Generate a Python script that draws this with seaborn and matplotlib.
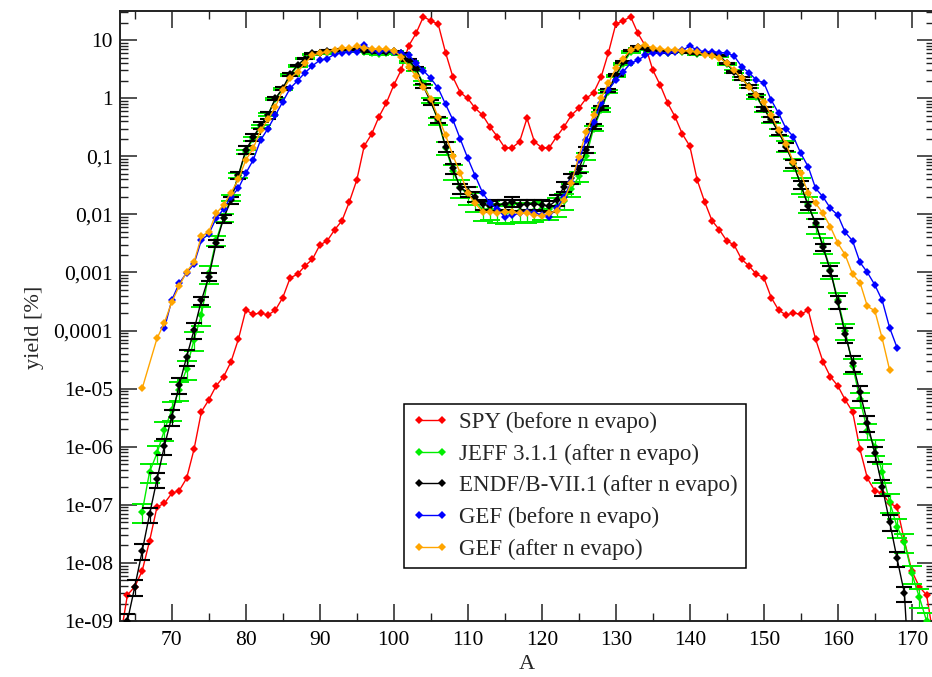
import numpy as np
import matplotlib
matplotlib.use("Agg")
import matplotlib.pyplot as plt
import seaborn as sns
from matplotlib.ticker import FixedLocator, FuncFormatter, LogLocator, MultipleLocator, NullFormatter

# ---------------- data: fission product mass yields [%] ----------------
A_spy = list(range(63, 174))
y_spy = [4.7e-10, 2.8e-9, 3.9e-9, 7.3e-9, 2.4e-8, 9.2e-8, 1.06e-7, 1.58e-7, 1.75e-7, 2.86e-7,
         9.0e-7, 4.0e-6, 6.4e-6, 1.12e-5, 1.6e-5, 2.9e-5, 7.1e-5, 2.25e-4, 1.9e-4, 2.0e-4,
         1.85e-4, 2.25e-4, 3.7e-4, 8.1e-4, 9.3e-4, 1.3e-3, 1.68e-3, 2.96e-3, 3.5e-3, 5.4e-3,
         7.8e-3, 1.65e-2, 3.9e-2, 0.15, 0.24, 0.48, 0.83, 1.68, 3.05, 7.9,
         13.0, 25.2, 21.5, 18.8, 6.05, 2.28, 1.24, 0.99, 0.67, 0.51,
         0.32, 0.217, 0.14, 0.14, 0.178, 0.45, 0.178, 0.14, 0.14, 0.217,
         0.32, 0.51, 0.67, 0.99, 1.24, 2.28, 6.05, 18.8, 21.5, 25.2,
         13.0, 7.9, 3.05, 1.68, 0.83, 0.48, 0.24, 0.15, 3.9e-2, 1.65e-2,
         7.8e-3, 5.4e-3, 3.5e-3, 2.96e-3, 1.68e-3, 1.3e-3, 9.3e-4, 8.1e-4, 3.7e-4, 2.25e-4,
         1.85e-4, 2.0e-4, 1.9e-4, 2.25e-4, 7.1e-5, 2.9e-5, 1.6e-5, 1.12e-5, 6.4e-6, 4.0e-6,
         9.0e-7, 2.86e-7, 1.75e-7, 1.58e-7, 1.06e-7, 9.2e-8, 2.4e-8, 7.3e-9, 3.9e-9, 2.8e-9,
         4.7e-10]

A_jeff = list(range(66, 173))
y_jeff = [7.6e-8, 3.7e-7, 7.7e-7, 1.94e-6, 4.3e-6, 9.5e-6, 2.2e-5, 6.9e-5, 1.85e-4, 9.7e-4,
          3.6e-3, 8.8e-3, 1.9e-2, 4.6e-2, 0.12, 0.2, 0.33, 0.52, 0.98, 1.42,
          2.5, 3.6, 4.8, 5.6, 5.9, 6.0, 6.2, 6.4, 6.4, 6.5,
          6.3, 6.0, 5.8, 5.9, 6.2, 5.7, 4.2, 3.1, 1.8, 0.9,
          0.4, 0.14, 0.055, 0.029, 0.022, 0.017, 0.012, 0.0125, 0.011, 0.0105,
          0.011, 0.0115, 0.011, 0.0115, 0.0125, 0.0125, 0.014, 0.017, 0.027, 0.045,
          0.1, 0.3, 0.62, 1.3, 2.4, 3.9, 6.2, 7.0, 7.2, 6.5,
          6.2, 6.1, 6.6, 6.3, 6.2, 5.8, 5.8, 5.9, 5.3, 3.8,
          2.9, 2.2, 1.6, 1.05, 0.65, 0.42, 0.26, 0.15, 0.073, 0.032,
          0.015, 6.5e-3, 3.0e-3, 1.1e-3, 3.4e-4, 1.0e-4, 2.5e-5, 6.5e-6, 1.9e-6, 1.0e-6,
          3.7e-7, 1.13e-7, 4.2e-8, 2.3e-8, 6.6e-9, 2.6e-9, 1.0e-9]
rel_jeff = ([0.35] * 10
            + [0.2, 0.15, 0.12, 0.1, 0.08, 0.08, 0.06, 0.05, 0.04, 0.04]
            + [0.03] * 10
            + [0.03] * 5 + [0.04, 0.05, 0.06, 0.08, 0.1]
            + [0.15, 0.25, 0.3] + [0.35] * 7
            + [0.35] * 7 + [0.3, 0.25, 0.2]
            + [0.15, 0.1, 0.08, 0.06, 0.05, 0.04, 0.03, 0.03, 0.03, 0.03]
            + [0.03] * 9 + [0.04]
            + [0.05, 0.06, 0.07, 0.08, 0.1, 0.12, 0.15, 0.2, 0.25, 0.3]
            + [0.3] * 10
            + [0.35] * 7)

A_endf = list(range(64, 171))
y_endf = [1.0e-9, 3.9e-9, 1.6e-8, 6.9e-8, 2.75e-7, 1.03e-6, 3.3e-6, 1.15e-5, 3.5e-5, 1.02e-4,
          3.3e-4, 8.4e-4, 3.2e-3, 8.5e-3, 1.76e-2, 4.7e-2, 0.128, 0.211, 0.344, 0.51,
          0.99, 1.48, 2.6, 3.7, 4.8, 5.9, 6.1, 6.5, 6.6, 6.9,
          6.8, 6.9, 6.6, 6.4, 6.2, 6.3, 6.4, 5.9, 4.5, 3.26,
          1.6, 0.85, 0.43, 0.146, 0.062, 0.028, 0.0245, 0.020, 0.015, 0.0139,
          0.0145, 0.015, 0.0165, 0.0145, 0.015, 0.015, 0.0145, 0.0139, 0.0176, 0.030,
          0.042, 0.060, 0.128, 0.33, 0.67, 1.38, 2.5, 4.2, 6.7, 7.7,
          7.2, 6.6, 6.3, 6.2, 6.6, 6.4, 6.2, 5.9, 5.8, 5.9,
          5.5, 3.97, 2.85, 2.19, 1.6, 1.13, 0.65, 0.43, 0.26, 0.146,
          0.075, 0.032, 0.0139, 7.2e-3, 2.7e-3, 1.07e-3, 3.1e-4, 8.6e-5, 2.8e-5, 8.6e-6,
          2.6e-6, 7.7e-7, 2.05e-7, 5.1e-8, 1.2e-8, 3.0e-9, 2.0e-11]
rel_endf = ([0.3] * 10
            + [0.15] * 10
            + [0.06, 0.06, 0.06] + [0.02] * 7
            + [0.02] * 7 + [0.03, 0.04, 0.06]
            + [0.08, 0.1, 0.12] + [0.2] * 7
            + [0.2] * 10
            + [0.2, 0.15, 0.12, 0.1, 0.08, 0.06, 0.04, 0.03, 0.02, 0.02]
            + [0.02] * 10
            + [0.02, 0.03, 0.04, 0.05, 0.06, 0.06, 0.08, 0.1, 0.12, 0.15]
            + [0.15] * 5 + [0.2, 0.25, 0.3, 0.3, 0.3]
            + [0.3] * 7)

A_gef_pre = list(range(69, 169))
y_gef_pre = [1.09e-4, 3.35e-4, 6.5e-4, 9.8e-4, 1.4e-3, 3.6e-3, 4.6e-3, 8.6e-3, 1.23e-2, 2.0e-2,
             2.8e-2, 5.1e-2, 8.6e-2, 0.19, 0.30, 0.51, 0.87, 1.48, 2.0, 2.74,
             3.6, 4.5, 4.8, 5.7, 6.05, 6.3, 6.3, 8.2, 6.7, 6.3,
             6.7, 6.3, 5.9, 5.5, 4.06, 2.97, 2.19, 1.48, 0.78, 0.42,
             0.195, 0.092, 0.046, 0.0235, 0.0155, 0.0122, 0.0091, 0.0097, 0.0104, 0.0111,
             0.0107, 0.0097, 0.0091, 0.0127, 0.020, 0.036, 0.086, 0.19, 0.39, 0.81,
             1.38, 2.05, 2.85, 4.0, 4.5, 5.5, 6.0, 5.9, 6.1, 6.3,
             6.7, 7.9, 6.7, 6.3, 6.3, 6.1, 6.0, 5.3, 3.5, 2.74,
             2.05, 1.84, 0.93, 0.55, 0.30, 0.217, 0.112, 0.066, 0.028, 0.020,
             0.0127, 9.7e-3, 4.9e-3, 3.5e-3, 1.49e-3, 1.0e-3, 6.1e-4, 3.3e-4, 1.12e-4, 5.1e-5]

A_gef_post = [66] + list(range(68, 168))
y_gef_post = [1.01e-5,
              7.3e-5, 1.36e-4, 3.1e-4, 5.8e-4, 1.03e-3, 1.49e-3, 4.2e-3, 5.0e-3, 1.04e-2, 1.45e-2,
              2.35e-2, 4.0e-2, 8.6e-2, 0.137, 0.28, 0.43, 0.71, 1.38, 2.19, 2.85,
              3.97, 5.5, 5.9, 6.3, 6.7, 7.2, 7.2, 7.9, 7.4, 7.1,
              6.9, 7.0, 6.6, 5.2, 3.5, 2.4, 1.57, 0.97, 0.47, 0.23,
              0.101, 0.051, 0.023, 0.0155, 0.0111, 0.0111, 0.0107, 0.0111, 0.0111, 0.0104,
              0.0104, 0.0097, 0.0094, 0.0105, 0.0115, 0.0176, 0.035, 0.098, 0.26, 0.51,
              0.99, 1.8, 3.26, 4.8, 6.7, 7.7, 8.2, 7.3, 7.0, 6.8,
              6.8, 6.6, 6.5, 6.2, 5.5, 5.4, 5.0, 3.97, 3.05, 2.2,
              1.57, 1.14, 0.87, 0.51, 0.28, 0.162, 0.080, 0.051, 0.023, 0.0155,
              0.0104, 6.1e-3, 3.2e-3, 2.0e-3, 9.3e-4, 6.7e-4, 2.6e-4, 2.2e-4, 7.3e-5, 2.1e-5]

labels = ["SPY (before n evapo)", "JEFF 3.1.1 (after n evapo)",
          "ENDF/B-VII.1 (after n evapo)", "GEF (before n evapo)", "GEF (after n evapo)"]

x_ticks = [70, 80, 90, 100, 110, 120, 130, 140, 150, 160, 170]
y_decades = [-9, -8, -7, -6, -5, -4, -3, -2, -1, 0, 1]
y_tick_text = ["1e-09", "1e-08", "1e-07", "1e-06", "1e-05",
               "0,0001", "0,001", "0,01", "0,1", "1", "10"]

# ---------------- style ----------------
sns.set_style("ticks")
plt.rcParams["font.family"] = ["Liberation Serif", "DejaVu Serif"]

W, H = 932, 677
fig = plt.figure(figsize=(W / 100, H / 100), dpi=100)
ax = fig.add_axes([120 / W, (H - 621) / H, 814 / W, 610 / H])

line_kw = dict(marker="D", markersize=4.5, markeredgewidth=0, linewidth=1.0,
               sort=False, errorbar=None)

sns.lineplot(x=A_spy, y=y_spy, color="#ff0000", label=labels[0], ax=ax, zorder=2, **line_kw)

y_j = np.array(y_jeff)
e_j = y_j * np.array(rel_jeff)
sns.lineplot(x=A_jeff, y=y_jeff, color="#00ee00", label=labels[1], ax=ax, zorder=3, **line_kw)
ax.errorbar(A_jeff, y_j, yerr=e_j, fmt="none", ecolor="#00ee00", elinewidth=0.9,
            capsize=7.5, capthick=1.4, zorder=3, label="_nolegend_")

y_e = np.array(y_endf)
e_e = y_e * np.array(rel_endf)
sns.lineplot(x=A_endf, y=y_endf, color="black", label=labels[2], ax=ax, zorder=4, **line_kw)
ax.errorbar(A_endf, y_e, yerr=e_e, fmt="none", ecolor="black", elinewidth=0.9,
            capsize=6.0, capthick=1.5, zorder=4, label="_nolegend_")

sns.lineplot(x=A_gef_pre, y=y_gef_pre, color="#0000ff", label=labels[3], ax=ax, zorder=5, **line_kw)
sns.lineplot(x=A_gef_post, y=y_gef_post, color="#ffa500", label=labels[4], ax=ax, zorder=6, **line_kw)

# ---------------- axes ----------------
ax.set_yscale("log")
ax.set_xlim(63, 173)
ax.set_ylim(1e-9, 10 ** 1.5)

ax.xaxis.set_major_locator(FixedLocator(x_ticks))
ax.xaxis.set_minor_locator(MultipleLocator(5))
ax.yaxis.set_major_locator(FixedLocator([10.0 ** d for d in y_decades]))
ax.yaxis.set_minor_locator(LogLocator(base=10, subs=np.arange(2, 10), numticks=40))
ax.yaxis.set_minor_formatter(NullFormatter())
tick_map = {d: t for d, t in zip(y_decades, y_tick_text)}
ax.yaxis.set_major_formatter(FuncFormatter(lambda v, p: tick_map.get(int(round(np.log10(v))), "")))

ax.tick_params(which="both", direction="in", top=True, right=True, colors="#222222",
               labelcolor="black", labelsize=15.5)
ax.tick_params(which="major", length=12, width=1.1)
ax.tick_params(which="minor", length=6, width=1.0)
ax.tick_params(axis="x", which="major", pad=7)
ax.tick_params(axis="y", which="major", pad=5)
for s in ax.spines.values():
    s.set_linewidth(1.4)
    s.set_color("#222222")

ax.set_xlabel("A", fontsize=16, labelpad=4)
fig.text(34 / W, 1 - 327 / H, "yield [%]", rotation=90, fontsize=16,
         ha="center", va="center")
ax.set_ylabel("")

leg = ax.legend(loc="lower left", bbox_to_anchor=(0.349, 0.087), borderaxespad=0,
                frameon=True, fancybox=False, shadow=False, edgecolor="black",
                framealpha=1, fontsize=16.5, handlelength=1.6, handletextpad=0.45,
                labelspacing=0.46, borderpad=0.35, numpoints=2)
leg.get_frame().set_linewidth(1.1)

fig.savefig("out.png", dpi=100)
